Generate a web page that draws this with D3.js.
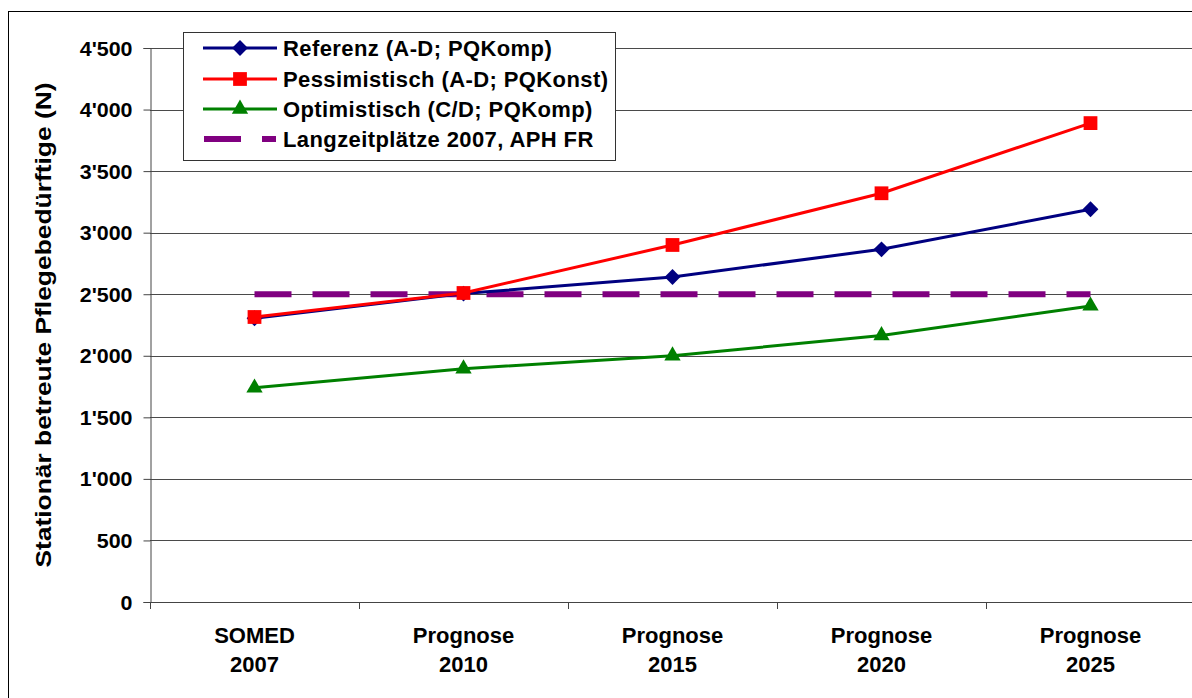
<!DOCTYPE html>
<html><head><meta charset="utf-8">
<script src="https://cdn.jsdelivr.net/npm/d3@7"></script>
<style>body{margin:0;background:#fff}svg{display:block;font-family:"Liberation Sans",Arial,sans-serif;font-weight:bold}</style>
</head><body><svg id="c" width="1192" height="698"></svg>
<script>
const categories = [["SOMED","2007"],["Prognose","2010"],["Prognose","2015"],["Prognose","2020"],["Prognose","2025"]];
const referenz = [2305, 2505, 2640, 2865, 3190];
const pessimistisch = [2315, 2510, 2900, 3320, 3890];
const optimistisch = [1740, 1895, 2000, 2165, 2405];
const langzeit = [2500, 2500, 2500, 2500, 2500];
const yTicks = [0,500,1000,1500,2000,2500,3000,3500,4000,4500];
const seriesNames = ["Referenz (A-D; PQKomp)","Pessimistisch (A-D; PQKonst)","Optimistisch (C/D; PQKomp)","Langzeitplätze 2007, APH FR"];

const svg = d3.select("#c");
const L=150, R=1195, T=48, B=602;
const x = d3.scaleBand().domain(d3.range(categories.length)).range([L,R]);
const y = d3.scaleLinear().domain([0,4500]).range([B,T]);
const fmt = v => v>=1000 ? Math.floor(v/1000)+"'"+String(v%1000).padStart(3,"0") : String(v);

// outer border
svg.append("rect").attr("x",8.5).attr("y",11.5).attr("width",1200).attr("height",720)
  .attr("fill","none").attr("stroke","#000").attr("stroke-width",1);

// grid
svg.append("g").selectAll("line").data(yTicks.filter(d=>d>0)).join("line")
  .attr("x1",L).attr("x2",R).attr("y1",d=>Math.round(y(d))+0.5).attr("y2",d=>Math.round(y(d))+0.5)
  .attr("stroke","#4a4a4a").attr("stroke-width",1);

// y axis
const ya = svg.append("g").attr("transform",`translate(${L+0.5},0)`)
  .call(d3.axisLeft(y).tickValues(yTicks).tickFormat(fmt).tickSize(7).tickPadding(10));
ya.selectAll(".tick text").style("font-size","19.5px").style("font-weight","bold").attr("fill","#000")
  .attr("x",-18/1.1).attr("dy","0.36em").attr("transform","scale(1.1,1)");
ya.select(".domain").attr("stroke","#444");
ya.selectAll(".tick line").attr("stroke","#444");

// x axis
svg.append("line").attr("x1",L).attr("x2",R).attr("y1",B+0.5).attr("y2",B+0.5).attr("stroke","#444");
svg.append("g").selectAll("line").data(d3.range(categories.length+1)).join("line")
  .attr("x1",i=>Math.round(L+i*x.step())+0.5).attr("x2",i=>Math.round(L+i*x.step())+0.5)
  .attr("y1",B).attr("y2",B+7).attr("stroke","#444");
const xl = svg.append("g").selectAll("text").data(categories).join("text")
  .attr("text-anchor","middle").style("font-size","22px")
  .attr("transform",(d,i)=>`translate(${x(i)+x.bandwidth()/2},0)`);
xl.append("tspan").attr("x",0).attr("y",643).text(d=>d[0]);
xl.append("tspan").attr("x",0).attr("y",672).text(d=>d[1]);

// y title
svg.append("text").attr("transform",`translate(51,${(T+B)/2}) rotate(-90) scale(1.2,1)`)
  .attr("text-anchor","middle").style("font-size","22px").text("Stationär betreute Pflegebedürftige (N)");

const cx = i => x(i)+x.bandwidth()/2;
// langzeit dashed
svg.append("path").datum(langzeit).attr("fill","none").attr("stroke","#800080").attr("stroke-width",6)
  .attr("stroke-dasharray","37,21")
  .attr("d",d3.line().x((d,i)=>cx(i)).y(d=>y(d)));

const diamond = {draw(ctx,size){const r=Math.sqrt(size/2);ctx.moveTo(0,-r);ctx.lineTo(r,0);ctx.lineTo(0,r);ctx.lineTo(-r,0);ctx.closePath();}};
const series = [
  {data:referenz,color:"#000080",sym:diamond,size:125},
  {data:pessimistisch,color:"#FF0000",sym:d3.symbolSquare,size:190},
  {data:optimistisch,color:"#008000",sym:d3.symbolTriangle,size:115}
];
const order=[2,0,1];
order.forEach(k=>{
  const s=series[k];
  svg.append("path").datum(s.data).attr("fill","none").attr("stroke",s.color).attr("stroke-width",3)
    .attr("d",d3.line().x((d,i)=>cx(i)).y(d=>y(d)));
  svg.append("g").selectAll("path").data(s.data).join("path")
    .attr("transform",(d,i)=>`translate(${cx(i)},${y(d)})`)
    .attr("d",d3.symbol(s.sym,s.size)).attr("fill",s.color);
});

// legend
const rowY=[48,79,109,139];
const lg = svg.append("g");
lg.append("rect").attr("x",183.5).attr("y",32.5).attr("width",432).attr("height",128)
  .attr("fill","#fff").attr("stroke","#333").attr("stroke-width",1);
seriesNames.forEach((n,i)=>{
  const yy = rowY[i];
  if(i<3){
    const s=series[i];
    lg.append("line").attr("x1",203).attr("x2",277).attr("y1",yy).attr("y2",yy).attr("stroke",s.color).attr("stroke-width",3);
    lg.append("path").attr("transform",`translate(240,${yy})`).attr("d",d3.symbol(s.sym,s.size)).attr("fill",s.color);
  } else {
    lg.append("line").attr("x1",204).attr("x2",276).attr("y1",yy).attr("y2",yy).attr("stroke","#800080")
      .attr("stroke-width",6).attr("stroke-dasharray","37,21");
  }
  lg.append("text").attr("x",283).attr("y",yy+7.5).style("font-size","22px").style("letter-spacing","0.4px").text(n);
});
</script></body></html>
